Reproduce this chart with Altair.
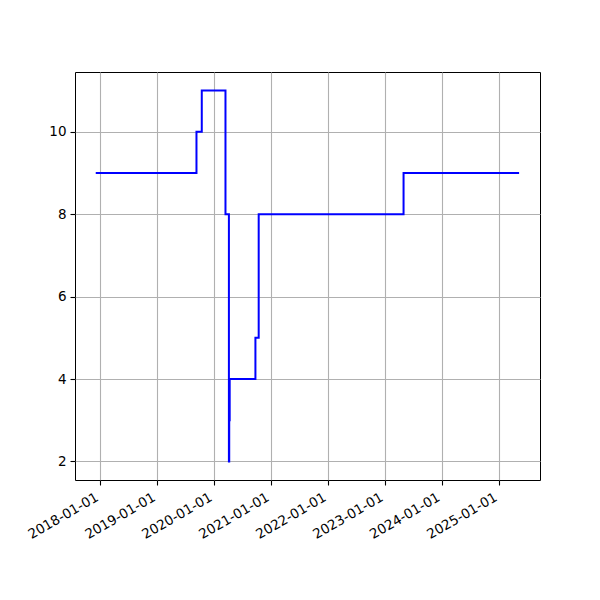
import altair as alt
import pandas as pd

dates = ["2017-12-02", "2019-09-09", "2019-10-13", "2020-03-13", "2020-04-04",
         "2020-04-06", "2020-04-09", "2020-09-21", "2020-10-12", "2023-04-29", "2025-05-09"]
values = [9, 10, 11, 8, 2, 3, 4, 5, 8, 9, 9]
tick_dates = ["2018-01-01", "2019-01-01", "2020-01-01", "2021-01-01",
              "2022-01-01", "2023-01-01", "2024-01-01", "2025-01-01"]
y_ticks = [2, 4, 6, 8, 10]

df = pd.DataFrame({"date": pd.to_datetime(dates), "value": values})

x_vals = [alt.DateTime(year=int(d[:4]), month=1, date=1) for d in tick_dates]

chart = alt.Chart(df).mark_line(
    interpolate="step-after", color="#0000ff", strokeWidth=2
).encode(
    x=alt.X("date:T",
            scale=alt.Scale(domain=[alt.DateTime(year=2017, month=7, date=22),
                                    alt.DateTime(year=2025, month=9, date=20)], nice=False),
            axis=alt.Axis(values=x_vals, format="%Y-%m-%d", labelAngle=-30,
                          labelAlign="right", labelBaseline="top", title=None,
                          labelOffset=-7, labelPadding=5)),
    y=alt.Y("value:Q",
            scale=alt.Scale(domain=[1.55, 11.45], nice=False, zero=False),
            axis=alt.Axis(values=y_ticks, title=None, labelPadding=4)),
).properties(
    width=465, height=408,
    autosize=alt.AutoSizeParams(type="none"),
    padding={"left": 67, "top": 64, "right": 52, "bottom": 112},
).configure_view(
    stroke="black", strokeWidth=1
).configure_axis(
    grid=True, gridColor="#b0b0b0", gridWidth=1.1,
    domain=False,
    tickColor="black", tickSize=5, tickWidth=1.1,
    labelColor="black", labelFont="DejaVu Sans", labelFontSize=13.5,
    labelFlush=False, labelOverlap=False
)

chart.save("out.html", embed_options={"renderer": "svg", "actions": False})
